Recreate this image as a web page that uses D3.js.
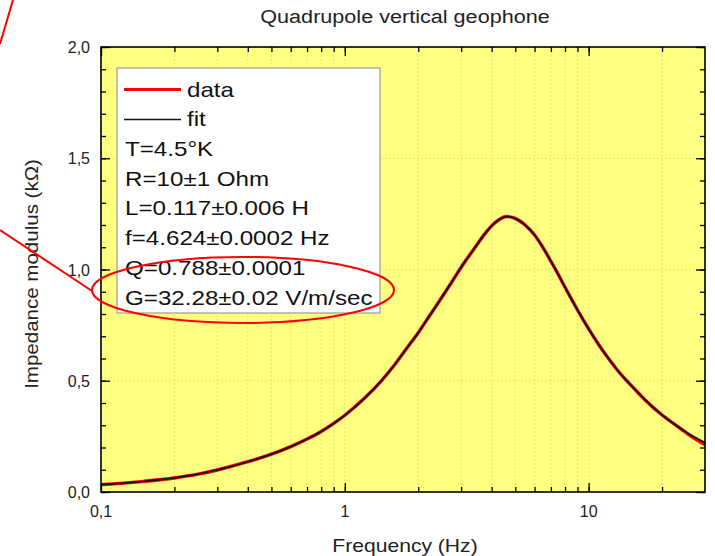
<!DOCTYPE html>
<html>
<head>
<meta charset="utf-8">
<script src="https://cdn.jsdelivr.net/npm/d3@7"></script>
<style>
  html, body { margin: 0; padding: 0; background: #fff; }
  svg { display: block; font-family: "Liberation Sans", Arial, sans-serif; }
</style>
</head>
<body>
<svg id="chart" width="715" height="556"></svg>
<script>
// ---- data ----
const title = "Quadrupole vertical geophone";
const xLabel = "Frequency (Hz)";
const yLabel = "Impedance modulus (kΩ)";
const xDomain = [0.1, 30];
const yDomain = [0, 2];
const xTickValues = [0.1, 1, 10];
const xTickLabels = ["0,1", "1", "10"];
const yTickValues = [0, 0.5, 1, 1.5, 2];
const yTickLabels = ["0,0", "0,5", "1,0", "1,5", "2,0"];

const freq = [0.1, 0.12, 0.15, 0.2, 0.25, 0.3, 0.4, 0.5, 0.6, 0.7, 0.8, 0.9, 1.0, 1.2, 1.4, 1.6, 1.8, 2.0, 2.25, 2.5, 2.75, 3.0, 3.25, 3.5, 3.75, 4.0, 4.3, 4.6, 4.9, 5.2, 5.5, 6.0, 6.5, 7.0, 7.5, 8.0, 9.0, 10, 11, 12, 13, 14, 15, 17, 20, 23, 26, 30];
const fitValues = [0.033, 0.039, 0.048, 0.063, 0.080, 0.099, 0.136, 0.170, 0.204, 0.238, 0.272, 0.308, 0.345, 0.420, 0.495, 0.572, 0.648, 0.716, 0.800, 0.875, 0.945, 1.010, 1.065, 1.115, 1.160, 1.196, 1.225, 1.238, 1.233, 1.219, 1.199, 1.155, 1.098, 1.037, 0.978, 0.920, 0.818, 0.733, 0.662, 0.603, 0.553, 0.512, 0.477, 0.415, 0.346, 0.297, 0.258, 0.222];
const dataValues = [0.033, 0.039, 0.048, 0.063, 0.080, 0.099, 0.136, 0.170, 0.204, 0.238, 0.272, 0.308, 0.345, 0.420, 0.495, 0.572, 0.648, 0.716, 0.800, 0.875, 0.945, 1.010, 1.065, 1.115, 1.160, 1.196, 1.225, 1.238, 1.233, 1.219, 1.199, 1.155, 1.098, 1.037, 0.978, 0.920, 0.818, 0.733, 0.662, 0.603, 0.553, 0.512, 0.477, 0.415, 0.346, 0.297, 0.255, 0.212];

const legendSeries = ["data", "fit"];
const legendNotes = ["T=4.5°K", "R=10±1 Ohm", "L=0.117±0.006 H", "f=4.624±0.0002 Hz", "Q=0.788±0.0001", "G=32.28±0.02 V/m/sec"];

// ---- layout ----
const svg = d3.select("#chart");
const L = 101, R = 705, T = 47, B = 492;
const x = d3.scaleLog().domain(xDomain).range([L, R]);
const y = d3.scaleLinear().domain(yDomain).range([B, T]);
const stretch = 1.15; // reference text is horizontally widened

function widen(sel, factor) {
  sel.each(function () {
    const w = this.getComputedTextLength();
    d3.select(this).attr("textLength", w * factor).attr("lengthAdjust", "spacingAndGlyphs");
  });
}

// background
svg.append("rect").attr("x", L).attr("y", T).attr("width", R - L).attr("height", B - T).attr("fill", "#ffff80");

// grid
const minorX = [];
for (let d = 0.1; d < 30; d *= 10) for (let k = 1; k <= 9; k++) { const v = d * k; if (v > 0.1 && v < 30) minorX.push(+v.toPrecision(3)); }
svg.append("g").selectAll("line").data(minorX).join("line")
  .attr("x1", d => x(d)).attr("x2", d => x(d)).attr("y1", T).attr("y2", B)
  .attr("stroke", "#dcdc78").attr("stroke-width", 1).attr("stroke-dasharray", "1.5,2.5");
svg.append("g").selectAll("line").data([0.5, 1, 1.5]).join("line")
  .attr("x1", L).attr("x2", R).attr("y1", d => y(d)).attr("y2", d => y(d))
  .attr("stroke", "#dcdc78").attr("stroke-width", 1).attr("stroke-dasharray", "1.5,2.5");

// curves
const line = d3.line().x((d, i) => x(freq[i])).y(d => y(d)).curve(d3.curveMonotoneX);
svg.append("path").datum(dataValues).attr("d", line).attr("fill", "none").attr("stroke", "#ff0000").attr("stroke-width", 3.4);
svg.append("path").datum(fitValues).attr("d", line).attr("fill", "none").attr("stroke", "#111").attr("stroke-width", 1.8);

// axes (ticks inward)
const minorY = d3.range(0, 2.0001, 0.1).map(v => +v.toFixed(1));
function styleAxis(g) {
  g.selectAll(".domain").remove();
  g.selectAll("line").attr("stroke", "#000").attr("stroke-width", 1.3);
}
svg.append("g").attr("transform", `translate(0,${B})`)
  .call(d3.axisTop(x).tickValues(minorX).tickSize(5).tickFormat("")).call(styleAxis);
svg.append("g").attr("transform", `translate(0,${B})`)
  .call(d3.axisTop(x).tickValues(xTickValues).tickSize(9).tickFormat("")).call(styleAxis);
svg.append("g").attr("transform", `translate(0,${T})`)
  .call(d3.axisBottom(x).tickValues(minorX).tickSize(5).tickFormat("")).call(styleAxis);
svg.append("g").attr("transform", `translate(0,${T})`)
  .call(d3.axisBottom(x).tickValues(xTickValues).tickSize(9).tickFormat("")).call(styleAxis);
svg.append("g").attr("transform", `translate(${L},0)`)
  .call(d3.axisRight(y).tickValues(minorY).tickSize(5).tickFormat("")).call(styleAxis);
svg.append("g").attr("transform", `translate(${L},0)`)
  .call(d3.axisRight(y).tickValues(yTickValues).tickSize(9).tickFormat("")).call(styleAxis);
svg.append("g").attr("transform", `translate(${R},0)`)
  .call(d3.axisLeft(y).tickValues(minorY).tickSize(5).tickFormat("")).call(styleAxis);
svg.append("g").attr("transform", `translate(${R},0)`)
  .call(d3.axisLeft(y).tickValues(yTickValues).tickSize(9).tickFormat("")).call(styleAxis);

// frame
svg.append("rect").attr("x", L).attr("y", T).attr("width", R - L).attr("height", B - T)
  .attr("fill", "none").attr("stroke", "#000").attr("stroke-width", 1.6);

// tick labels
svg.append("g").selectAll("text").data(xTickValues).join("text")
  .attr("x", d => x(d)).attr("y", 517).attr("text-anchor", "middle")
  .attr("font-size", 16).attr("fill", "#222").text((d, i) => xTickLabels[i]);
svg.append("g").selectAll("text").data(yTickValues).join("text")
  .attr("x", 90).attr("y", d => y(d) + 6).attr("text-anchor", "end")
  .attr("font-size", 16).attr("fill", "#222").text((d, i) => yTickLabels[i]);

// titles
svg.append("text").attr("x", 405).attr("y", 23).attr("text-anchor", "middle")
  .attr("font-size", 18).attr("fill", "#222").text(title).call(widen, 1.2);
svg.append("text").attr("x", 405).attr("y", 552).attr("text-anchor", "middle")
  .attr("font-size", 19).attr("fill", "#222").text(xLabel).call(widen, 1.11);
svg.append("text").attr("transform", "translate(38,274) rotate(-90)").attr("text-anchor", "middle")
  .attr("font-size", 19).attr("fill", "#222").text(yLabel).call(widen, 1.08);

// legend
const lg = svg.append("g");
lg.append("rect").attr("x", 117).attr("y", 68).attr("width", 263).attr("height", 245)
  .attr("fill", "#fff").attr("stroke", "#999").attr("stroke-width", 1.2);
const lineColors = ["#ff0000", "#111"];
const lineWidths = [3, 1.5];
legendSeries.forEach((s, i) => {
  const yy = 89.5 + i * 30;
  lg.append("line").attr("x1", 124).attr("x2", 181).attr("y1", yy).attr("y2", yy)
    .attr("stroke", lineColors[i]).attr("stroke-width", lineWidths[i]);
  lg.append("text").attr("x", 187).attr("y", 96.5 + i * 29.6).attr("font-size", 21).attr("fill", "#111").text(s).call(widen, stretch);
});
legendNotes.forEach((s, i) => {
  lg.append("text").attr("x", 125).attr("y", 156 + i * 29.7).attr("font-size", 21).attr("fill", "#111").text(s).call(widen, stretch);
});

// red annotations
svg.append("ellipse").attr("cx", 243).attr("cy", 290).attr("rx", 151).attr("ry", 33)
  .attr("fill", "none").attr("stroke", "#ff0000").attr("stroke-width", 2);
svg.append("line").attr("x1", 0).attr("y1", 230).attr("x2", 92).attr("y2", 291)
  .attr("stroke", "#ff0000").attr("stroke-width", 2);
svg.append("line").attr("x1", 13).attr("y1", 0).attr("x2", 0).attr("y2", 44)
  .attr("stroke", "#ff0000").attr("stroke-width", 2);
</script>
</body>
</html>
